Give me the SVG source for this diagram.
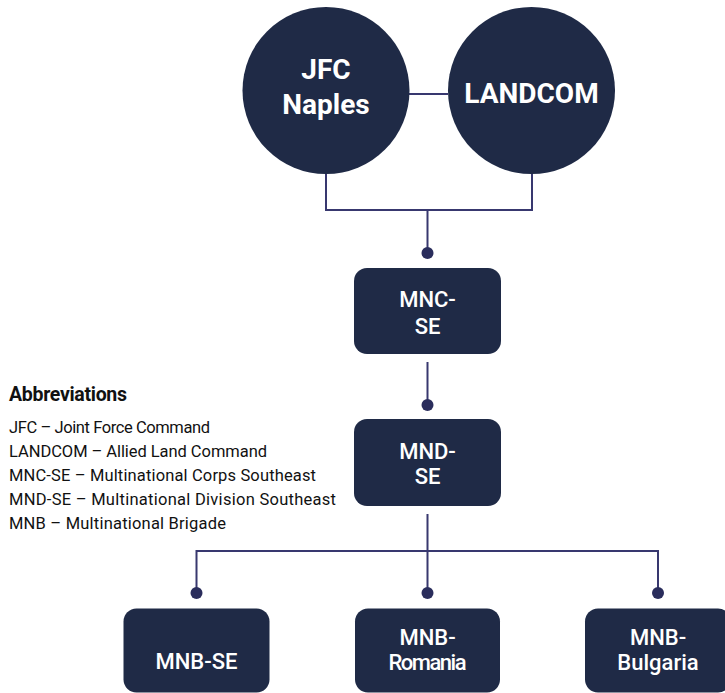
<svg xmlns="http://www.w3.org/2000/svg" width="725" height="693" viewBox="0 0 725 693">
<style>
.node{fill:#1f2a46}
.lbl{fill:#ffffff;font-family:Roboto,"Open Sans",sans-serif;text-anchor:middle}
.big{font-size:28px;font-weight:bold}
.box{font-size:22px;font-weight:500}
.conn{fill:none;stroke:#38386f;stroke-width:2}
.dot{fill:#2a2d5c}
.abbr{font-family:Roboto,"Open Sans",sans-serif;fill:#111111;font-size:16.5px}
.abbr.head{font-size:19.5px;font-weight:bold}
</style>
<rect width="725" height="693" fill="#ffffff"/>
<g id="connectors">
<path class="conn" d="M409,94 H448"/>
<path class="conn" d="M326,173 V210 H532 V173"/>
<path class="conn" d="M427.5,210 V252"/>
<circle class="dot" cx="427.5" cy="253" r="6"/>
<path class="conn" d="M427.5,362 V404"/>
<circle class="dot" cx="427.5" cy="405" r="6"/>
<path class="conn" d="M427.5,514 V551 M196.5,592 V551 H658 V592 M427.5,551 V592"/>
<circle class="dot" cx="196.5" cy="593" r="6"/>
<circle class="dot" cx="427.5" cy="593" r="6"/>
<circle class="dot" cx="658" cy="593" r="6"/>
</g>
<g id="jfc">
<circle class="node" cx="326" cy="90.5" r="83.5"/>
<text class="lbl big" x="326" y="79">JFC</text>
<text class="lbl big" x="326" y="114">Naples</text>
</g>
<g id="landcom">
<circle class="node" cx="531.5" cy="90.5" r="83.5"/>
<text class="lbl big" x="531.5" y="103">LANDCOM</text>
</g>
<g id="mncse">
<rect class="node" x="354" y="268" width="147" height="86" rx="13"/>
<text class="lbl box" x="427.5" y="307">MNC-</text>
<text class="lbl box" x="427.5" y="334">SE</text>
</g>
<g id="mndse">
<rect class="node" x="354" y="419" width="147" height="87" rx="13"/>
<text class="lbl box" x="427.5" y="459">MND-</text>
<text class="lbl box" x="427.5" y="484">SE</text>
</g>
<g id="mnbse">
<rect class="node" x="123.5" y="608.5" width="146" height="84" rx="13"/>
<text class="lbl box" x="196.5" y="669">MNB-SE</text>
</g>
<g id="mnbro">
<rect class="node" x="355" y="608.5" width="145" height="84" rx="13"/>
<text class="lbl box" x="427.5" y="645">MNB-</text>
<text class="lbl box" x="427.5" y="670" textLength="78">Romania</text>
</g>
<g id="mnbbg">
<rect class="node" x="585" y="608.5" width="146" height="84" rx="13"/>
<text class="lbl box" x="658" y="645">MNB-</text>
<text class="lbl box" x="658" y="670">Bulgaria</text>
</g>
<g id="abbreviations">
<text class="abbr head" x="9" y="401" textLength="118">Abbreviations</text>
<text class="abbr" x="9" y="433" textLength="201">JFC – Joint Force Command</text>
<text class="abbr" x="9" y="457" textLength="258">LANDCOM – Allied Land Command</text>
<text class="abbr" x="9" y="481" textLength="307">MNC-SE – Multinational Corps Southeast</text>
<text class="abbr" x="9" y="505" textLength="327">MND-SE – Multinational Division Southeast</text>
<text class="abbr" x="9" y="529" textLength="217">MNB – Multinational Brigade</text>
</g>
</svg>
